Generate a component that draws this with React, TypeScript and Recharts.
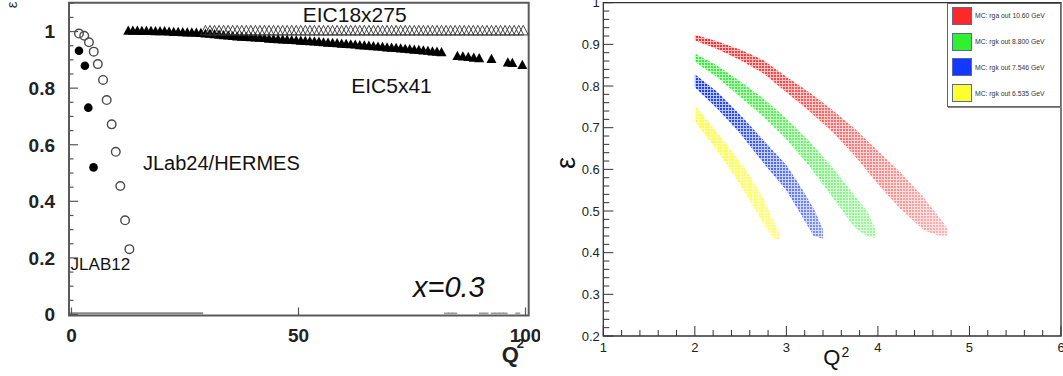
import React from 'react';
import {
  ScatterChart,
  Scatter,
  ComposedChart,
  Area,
  XAxis,
  YAxis,
  ReferenceArea,
  ReferenceLine,
  Legend,
} from 'recharts';

const SANS = '"Liberation Sans", Arial, Helvetica, sans-serif';

// ---- left panel: epsilon vs Q2 at x = 0.3 ----
const jlab12Q2 = [1.65, 2.95, 3.7, 4.85];
const jlab12Eps = [0.932, 0.879, 0.731, 0.52];

const jlab24Q2 = [1.65, 2.8, 3.85, 4.9, 5.8, 6.95, 7.75, 8.85, 9.75, 10.75, 11.8, 12.75];
const jlab24Eps = [0.993, 0.985, 0.962, 0.929, 0.885, 0.829, 0.758, 0.672, 0.575, 0.454, 0.333, 0.231];

const eic5Q2 = [
  12.5, 13.5, 14.5, 15.5, 16.5, 17.5, 18.5, 19.5, 20.5, 21.5, 22.5, 23.5, 24.5, 25.5, 26.5, 27.5,
  28.5, 29.5, 30.5, 31.5, 32.5, 33.5, 34.5, 35.5, 36.5, 37.5, 38.5, 39.5, 40.5, 41.5, 42.5, 43.5,
  44.5, 45.5, 46.5, 47.5, 48.5, 49.5, 50.5, 51.5, 52.5, 53.5, 54.5, 55.5, 56.5, 57.5, 58.5, 59.5,
  60.5, 61.5, 62.5, 63.5, 64.5, 65.5, 66.5, 67.5, 68.5, 69.5, 70.5, 71.5, 72.5, 73.5, 74.5, 75.5,
  76.5, 77.5, 78.5, 79.5, 80.5, 81.5, 85, 86.2, 87.4, 88.6, 89.8, 92.5, 96.1, 97.1, 99.3,
];
const eic5Eps = [
  1.005, 1.005, 1.005, 1.004, 1.004, 1.004, 1.003, 1.003, 1.003, 1.002, 1.001, 1.001, 1.0, 0.999, 0.999, 0.998,
  0.997, 0.995, 0.994, 0.993, 0.991, 0.989, 0.988, 0.986, 0.985, 0.984, 0.983, 0.982, 0.981, 0.98, 0.979, 0.977,
  0.976, 0.975, 0.974, 0.973, 0.972, 0.971, 0.97, 0.969, 0.968, 0.967, 0.966, 0.964, 0.963, 0.962, 0.961, 0.959,
  0.958, 0.957, 0.956, 0.954, 0.953, 0.952, 0.95, 0.949, 0.948, 0.946, 0.945, 0.944, 0.942, 0.941, 0.94, 0.938,
  0.937, 0.935, 0.934, 0.932, 0.931, 0.929, 0.916, 0.914, 0.912, 0.91, 0.908, 0.905, 0.893, 0.891, 0.884,
];

const eic18Q2 = [
  29.5, 30.5, 31.5, 32.5, 33.5, 34.5, 35.5, 36.5, 37.5, 38.5, 39.5, 40.5, 41.5, 42.5, 43.5, 44.5,
  45.5, 46.5, 47.5, 48.5, 49.5, 50.5, 51.5, 52.5, 53.5, 54.5, 55.5, 56.5, 57.5, 58.5, 59.5, 60.5,
  61.5, 62.5, 63.5, 64.5, 65.5, 66.5, 67.5, 68.5, 69.5, 70.5, 71.5, 72.5, 73.5, 74.5, 75.5, 76.5,
  77.5, 78.5, 79.5, 80.5, 81.5, 82.5, 83.5, 84.5, 85.5, 86.5, 87.5, 88.5, 89.5, 90.5, 91.5, 92.5,
  93.5, 94.5, 95.5, 96.5, 97.5, 98.5, 99.5,
];
const eic18Eps = [
  1.005, 1.005, 1.005, 1.005, 1.005, 1.005, 1.005, 1.005, 1.005, 1.005, 1.005, 1.005, 1.005, 1.005, 1.005, 1.005,
  1.005, 1.005, 1.005, 1.005, 1.005, 1.005, 1.005, 1.005, 1.005, 1.005, 1.005, 1.005, 1.005, 1.005, 1.005, 1.005,
  1.005, 1.005, 1.005, 1.005, 1.005, 1.005, 1.005, 1.005, 1.005, 1.005, 1.005, 1.005, 1.005, 1.005, 1.005, 1.005,
  1.005, 1.005, 1.005, 1.005, 1.005, 1.005, 1.005, 1.005, 1.005, 1.005, 1.005, 1.005, 1.005, 1.005, 1.005, 1.005,
  1.005, 1.005, 1.005, 1.005, 1.005, 1.005, 1.005,
];

// small marks lying on the axis
const axisDashQ2 = [82.6, 83.5, 84.4, 90.3, 91.3, 92.9, 93.8, 94.7, 95.5, 98.3];
const axisDashEps = [0.004, 0.004, 0.004, 0.004, 0.004, 0.004, 0.004, 0.004, 0.004, 0.004];

const leftXTicks = [0, 50, 100];
const leftYTicks = Array.from({ length: 23 }, (_, i) => Number((i * 0.05).toFixed(2)));

// ---- right panel: MC bands ----
const bandNames = [
  'MC: rga out 10.60 GeV',
  'MC: rgk out 8.800 GeV',
  'MC: rgk out 7.546 GeV',
  'MC: rgk out 6.535 GeV',
];
const bandColors = ['#ff2828', '#30f030', '#1438ff', '#ffff30'];
const bandFade = [0.65, 0.55, 0.45, 0.3];

const rgaQ2 = [2, 2.25, 2.5, 2.75, 3, 3.25, 3.5, 3.75, 4, 4.25, 4.5, 4.65, 4.76];
const rgaHi = [0.923, 0.907, 0.887, 0.862, 0.822, 0.785, 0.743, 0.697, 0.644, 0.592, 0.532, 0.49, 0.458];
const rgaLo = [0.909, 0.888, 0.862, 0.83, 0.785, 0.74, 0.69, 0.632, 0.565, 0.505, 0.455, 0.442, 0.442];

const rgk88Q2 = [2, 2.25, 2.5, 2.75, 3, 3.25, 3.5, 3.75, 3.88, 3.97];
const rgk88Hi = [0.878, 0.848, 0.81, 0.77, 0.722, 0.668, 0.605, 0.536, 0.5, 0.458];
const rgk88Lo = [0.858, 0.82, 0.773, 0.726, 0.672, 0.608, 0.535, 0.46, 0.44, 0.436];

const rgk75Q2 = [2, 2.25, 2.5, 2.75, 3, 3.15, 3.3, 3.4];
const rgk75Hi = [0.828, 0.785, 0.73, 0.67, 0.61, 0.56, 0.505, 0.455];
const rgk75Lo = [0.797, 0.745, 0.685, 0.615, 0.55, 0.495, 0.44, 0.434];

const rgk65Q2 = [2, 2.2, 2.4, 2.6, 2.75, 2.85, 2.92];
const rgk65Hi = [0.754, 0.7, 0.645, 0.585, 0.53, 0.48, 0.45];
const rgk65Lo = [0.715, 0.658, 0.595, 0.525, 0.47, 0.435, 0.43];

const rightXTicks = Array.from({ length: 26 }, (_, i) => Number((1 + i * 0.2).toFixed(1)));
const rightYTicks = Array.from({ length: 41 }, (_, i) => Number((0.2 + i * 0.02).toFixed(2)));

const toPts = (q: number[], e: number[]) => q.map((v, i) => ({ q2: v, eps: e[i] }));
const toBand = (q: number[], lo: number[], hi: number[]) =>
  q.map((v, i) => ({ q2: v, range: [lo[i], hi[i]] }));

const bands = [
  { key: 'rga', data: toBand(rgaQ2, rgaLo, rgaHi) },
  { key: 'rgk88', data: toBand(rgk88Q2, rgk88Lo, rgk88Hi) },
  { key: 'rgk75', data: toBand(rgk75Q2, rgk75Lo, rgk75Hi) },
  { key: 'rgk65', data: toBand(rgk65Q2, rgk65Lo, rgk65Hi) },
].map((b, i) => ({ ...b, name: bandNames[i], color: bandColors[i], fade: bandFade[i] }));

// ---- marker shapes ----
const openCircle = (p: any) => (
  <circle cx={p.cx} cy={p.cy} r={4.3} fill="none" stroke="#4a4a4a" strokeWidth={1.4} />
);
const filledCircle = (p: any) => <circle cx={p.cx} cy={p.cy} r={4.3} fill="#000" />;
const filledTri = (p: any) => (
  <path d={`M${p.cx - 5},${p.cy + 4.6}L${p.cx},${p.cy - 4.6}L${p.cx + 5},${p.cy + 4.6}Z`} fill="#000" />
);
const openTri = (p: any) => (
  <path
    d={`M${p.cx - 5},${p.cy + 4.8}L${p.cx},${p.cy - 4.8}L${p.cx + 5},${p.cy + 4.8}Z`}
    fill="none"
    stroke="#333"
    strokeWidth={0.9}
  />
);
const axisDash = (p: any) => (
  <line x1={p.cx - 2.5} x2={p.cx + 2.5} y1={p.cy} y2={p.cy} stroke="#999" strokeWidth={1.6} />
);

// ---- ticks ----
function LeftYTick(props: any) {
  const { x, y, payload } = props;
  const v: number = payload.value;
  const major = Math.abs(v * 5 - Math.round(v * 5)) < 1e-6;
  return (
    <g>
      <line x1={x} x2={x + (major ? 9 : 4.5)} y1={y} y2={y} stroke="#555" strokeWidth={1.2} />
      {major && (
        <text x={x - 14} y={y} dy="0.36em" textAnchor="end" fontFamily={SANS} fontWeight="bold" fontSize={19} fill="#222">
          {Number(v.toFixed(1))}
        </text>
      )}
    </g>
  );
}

function LeftXTick(props: any) {
  const { x, y, payload } = props;
  return (
    <g>
      <line x1={x} x2={x} y1={y} y2={y - 8} stroke="#555" strokeWidth={1.2} />
      <text x={x} y={y + 26.5} textAnchor="middle" fontFamily={SANS} fontWeight="bold" fontSize={19} fill="#222">
        {payload.value}
      </text>
    </g>
  );
}

function RightYTick(props: any) {
  const { x, y, payload } = props;
  const v: number = payload.value;
  const major = Math.abs(v * 10 - Math.round(v * 10)) < 1e-6;
  return (
    <g>
      <line x1={x} x2={x + (major ? 10 : 6)} y1={y} y2={y} stroke="#333" strokeWidth={1} />
      {major && (
        <text x={x - 3.5} y={y} dy="0.36em" textAnchor="end" fontFamily={SANS} fontSize={13} fill="#222">
          {v === 1 ? '1' : v.toFixed(1)}
        </text>
      )}
    </g>
  );
}

function RightXTick(props: any) {
  const { x, y, payload } = props;
  const v: number = payload.value;
  const major = Math.abs(v - Math.round(v)) < 1e-6;
  return (
    <g>
      <line x1={x} x2={x} y1={y} y2={y - (major ? 10 : 6)} stroke="#333" strokeWidth={1} />
      {major && (
        <text x={x} y={y + 15.5} textAnchor="middle" fontFamily={SANS} fontSize={13} fill="#222">
          {v}
        </text>
      )}
    </g>
  );
}

function BandLegend() {
  return (
    <div
      style={{
        width: 114.3,
        height: 104,
        border: '1px solid #666',
        boxShadow: '1px 1px 0 #888',
        background: '#fff',
        boxSizing: 'border-box',
        position: 'relative',
        fontFamily: SANS,
      }}
    >
      {bands.map((b, i) => (
        <div
          key={b.key}
          style={{ position: 'absolute', left: 4, top: 3 + i * 25.9, display: 'flex', alignItems: 'center' }}
        >
          <div style={{ width: 20, height: 18, background: b.color, border: '1px solid #5a6aa0', boxSizing: 'border-box' }} />
          <span style={{ marginLeft: 3.3, fontSize: 6.8, color: '#333', whiteSpace: 'nowrap' }}>{b.name}</span>
        </div>
      ))}
    </div>
  );
}

export default function App() {
  return (
    <div style={{ position: 'absolute', left: 0, top: 0, width: 1063, height: 376, background: '#fff' }}>
      <div style={{ position: 'absolute', left: 0, top: 0 }}>
        <ScatterChart width={540} height={376} margin={{ top: 2.7, right: 11.3, bottom: 59.5, left: 68 }}>
          <XAxis
            type="number"
            dataKey="q2"
            domain={[-0.55, 100.7]}
            allowDataOverflow
            ticks={leftXTicks}
            interval={0}
            height={1}
            tickSize={0}
            tickMargin={0}
            axisLine={false}
            tickLine={false}
            tick={LeftXTick}
          />
          <YAxis
            type="number"
            dataKey="eps"
            domain={[-0.0035, 1.102]}
            allowDataOverflow
            ticks={leftYTicks}
            interval={0}
            width={1}
            tickSize={0}
            tickMargin={0}
            axisLine={false}
            tickLine={false}
            tick={LeftYTick}
          />
          <ReferenceLine
            segment={[{ x: -0.3, y: 0.004 }, { x: 29, y: 0.004 }]}
            stroke="#888"
            strokeWidth={2.4}
          />
          <Scatter name="axis" data={toPts(axisDashQ2, axisDashEps)} shape={axisDash} isAnimationActive={false} />
          <Scatter name="EIC5x41" data={toPts(eic5Q2, eic5Eps)} shape={filledTri} isAnimationActive={false} />
          <Scatter name="EIC18x275" data={toPts(eic18Q2, eic18Eps)} shape={openTri} isAnimationActive={false} />
          <Scatter name="JLab24/HERMES" data={toPts(jlab24Q2, jlab24Eps)} shape={openCircle} isAnimationActive={false} />
          <Scatter name="JLAB12" data={toPts(jlab12Q2, jlab12Eps)} shape={filledCircle} isAnimationActive={false} />
          <ReferenceArea
            x1={-0.55}
            x2={100.7}
            y1={-0.0035}
            y2={1.102}
            fill="none"
            fillOpacity={0}
            stroke="#5a5a5a"
            strokeWidth={2}
          />
          <text x={354.7} y={21.7} textAnchor="middle" fontFamily={SANS} fontSize={21} fill="#111">EIC18x275</text>
          <text x={391.5} y={93.3} textAnchor="middle" fontFamily={SANS} fontSize={21} fill="#111">EIC5x41</text>
          <text x={143} y={170} fontFamily={SANS} fontSize={20} fill="#111">JLab24/HERMES</text>
          <text x={70.6} y={270} fontFamily={SANS} fontSize={17} fill="#111">JLAB12</text>
          <text x={413} y={296.7} fontFamily={SANS} fontSize={29} fontStyle="italic" fill="#111">x=0.3</text>
          <text x={501.7} y={361.5} fontFamily={SANS} fontSize={22} fontWeight="bold" fill="#222">
            Q<tspan dx={-2} dy={-13.5} fontSize={13}>2</tspan>
          </text>
          <text
            transform="translate(13.3,5) rotate(-90)"
            textAnchor="middle"
            dy="0.26em"
            fontFamily={SANS}
            fontSize={15}
            fill="#333"
          >
            ε
          </text>
        </ScatterChart>
      </div>

      <div style={{ position: 'absolute', left: 540, top: 0 }}>
        <ComposedChart width={523} height={376} margin={{ top: 2.7, right: 2, bottom: 39, left: 62.3 }}>
          <defs>
            {bands.map((b) => (
              <pattern key={`p-${b.key}`} id={`dots-${b.key}`} width={3} height={3} patternUnits="userSpaceOnUse">
                <rect width={3} height={3} fill={b.color} fillOpacity={0.3} />
                <rect width={2} height={2} fill={b.color} />
              </pattern>
            ))}
            {bands.map((b) => (
              <linearGradient key={`g-${b.key}`} id={`fade-${b.key}`} x1="0" y1="0" x2="1" y2="0">
                <stop offset="0" stopColor="#fff" stopOpacity={0} />
                <stop offset="0.35" stopColor="#fff" stopOpacity={b.fade * 0.25} />
                <stop offset="1" stopColor="#fff" stopOpacity={b.fade} />
              </linearGradient>
            ))}
          </defs>
          <XAxis
            type="number"
            dataKey="q2"
            domain={[1, 6]}
            allowDataOverflow
            ticks={rightXTicks}
            interval={0}
            height={1}
            tickSize={0}
            tickMargin={0}
            axisLine={false}
            tickLine={false}
            tick={RightXTick}
          />
          <YAxis
            type="number"
            domain={[0.2, 1]}
            allowDataOverflow
            ticks={rightYTicks}
            interval={0}
            width={1}
            tickSize={0}
            tickMargin={0}
            axisLine={false}
            tickLine={false}
            tick={RightYTick}
          />
          {bands.map((b) => (
            <Area
              key={b.key}
              name={b.name}
              data={b.data}
              dataKey="range"
              type="linear"
              stroke="none"
              fill={`url(#dots-${b.key})`}
              fillOpacity={1}
              dot={false}
              activeDot={false}
              isAnimationActive={false}
            />
          ))}
          {bands.map((b) => (
            <Area
              key={`${b.key}-fade`}
              data={b.data}
              dataKey="range"
              type="linear"
              stroke="none"
              fill={`url(#fade-${b.key})`}
              fillOpacity={1}
              legendType="none"
              dot={false}
              activeDot={false}
              isAnimationActive={false}
            />
          ))}
          <ReferenceArea x1={1} x2={6} y1={0.2} y2={1} fill="none" fillOpacity={0} stroke="#333" strokeWidth={1.3} />
          <Legend
            layout="vertical"
            align="center"
            verticalAlign="middle"
            wrapperStyle={{ left: 406.7, top: 2.7, width: 114.3, height: 104 }}
            content={() => <BandLegend />}
          />
          <text x={283.3} y={365} fontFamily={SANS} fontSize={22} fill="#111">
            Q<tspan dx={1} dy={-8.5} fontSize={14}>2</tspan>
          </text>
          <text
            transform="translate(27.5,163) rotate(-90)"
            textAnchor="middle"
            dy="0.26em"
            fontFamily={SANS}
            fontSize={27}
            fill="#111"
          >
            ε
          </text>
        </ComposedChart>
      </div>
    </div>
  );
}
